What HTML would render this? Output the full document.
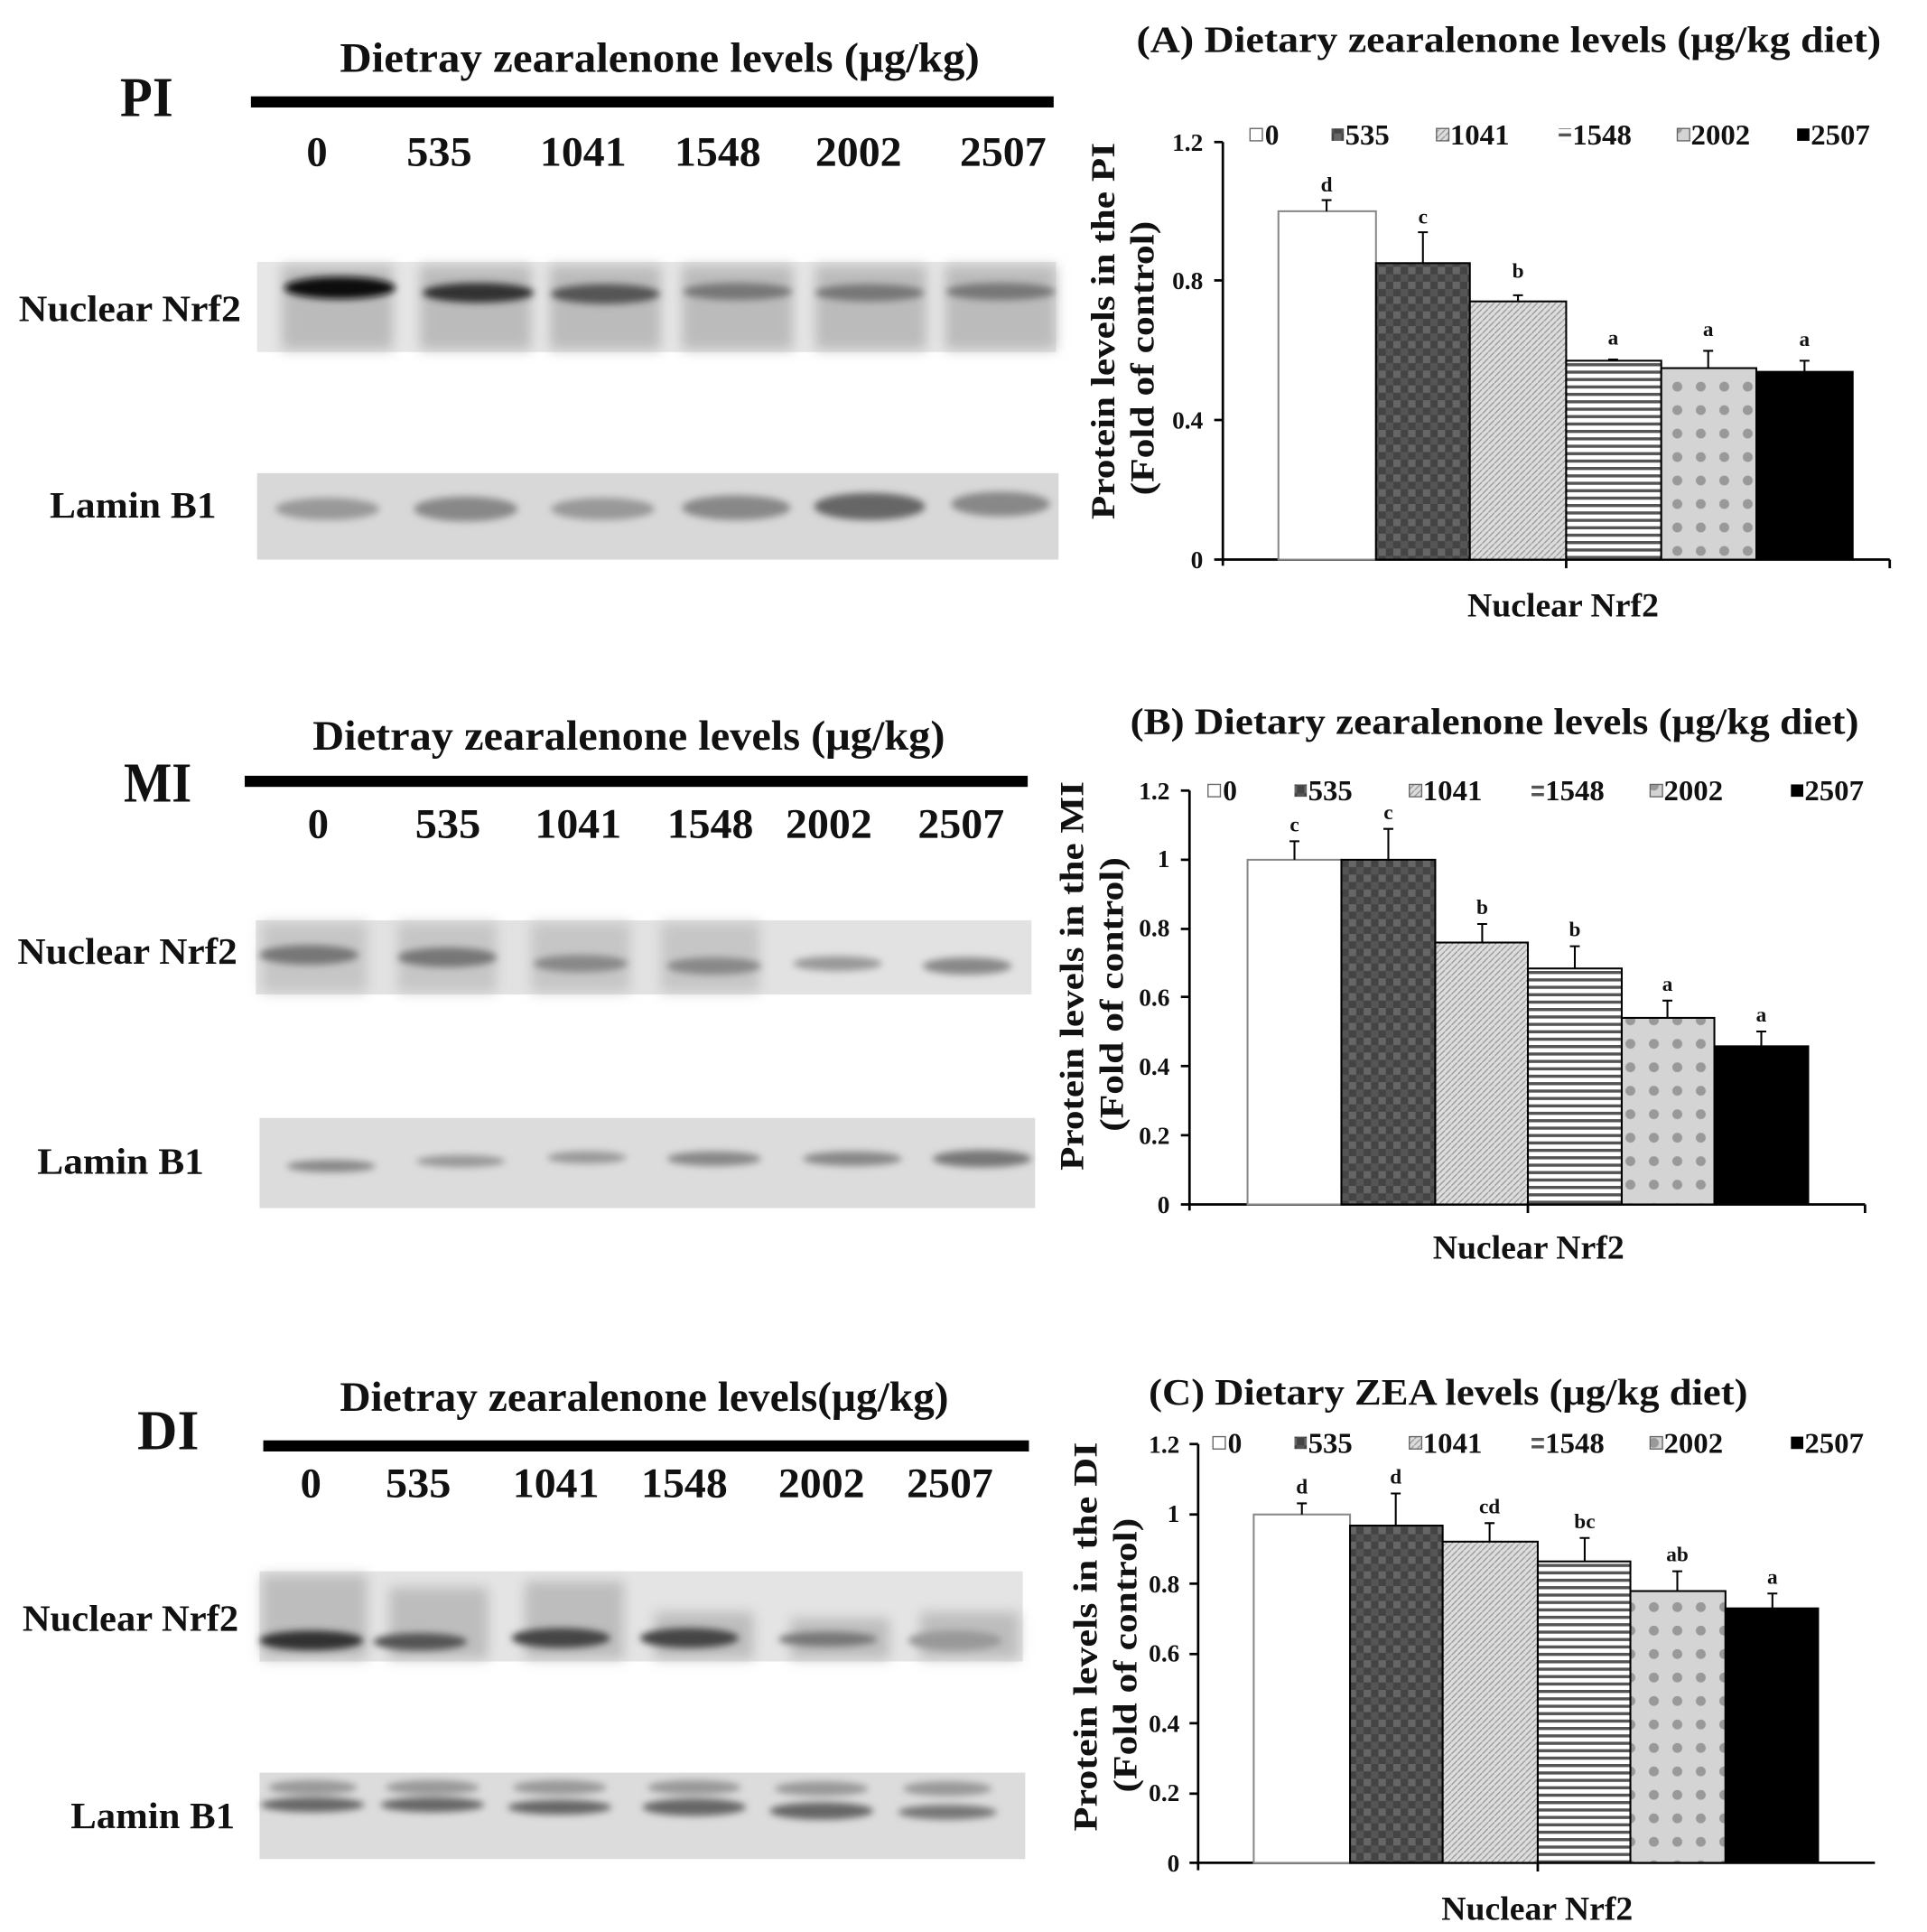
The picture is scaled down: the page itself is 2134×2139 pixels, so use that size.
<!DOCTYPE html>
<html><head><meta charset="utf-8"><style>
html,body{margin:0;padding:0;background:#fff}
svg{display:block}
text{font-family:"Liberation Serif",serif;font-weight:bold;fill:#111}
</style></head><body>
<svg width="2134" height="2139" viewBox="0 0 1560 1564" xmlns="http://www.w3.org/2000/svg">
<defs>
<filter id="bl" x="-20%" y="-50%" width="140%" height="200%"><feGaussianBlur stdDeviation="5"/></filter>
<filter id="bl2" x="-20%" y="-50%" width="140%" height="200%"><feGaussianBlur stdDeviation="3"/></filter>
<pattern id="p535" width="12" height="12" patternUnits="userSpaceOnUse"><rect width="12" height="12" fill="#444"/><rect width="6" height="6" fill="#666"/><rect x="6" y="6" width="6" height="6" fill="#555"/></pattern>
<pattern id="p1041" width="5" height="5" patternUnits="userSpaceOnUse"><rect width="5" height="5" fill="#ddd"/><path d="M0 5L5 0" stroke="#999" stroke-width="1"/></pattern>
<pattern id="p1548" width="6" height="6" patternUnits="userSpaceOnUse"><rect width="6" height="6" fill="#fff"/><rect y="0" width="6" height="2.5" fill="#555"/></pattern>
<pattern id="p2002" width="19" height="19" patternUnits="userSpaceOnUse"><rect width="19" height="19" fill="#d4d4d4"/><circle cx="9" cy="9" r="4" fill="#999"/></pattern>
</defs>

<!-- ========== PI blot ========== -->
<text x="97" y="94" font-size="46" textLength="43" lengthAdjust="spacingAndGlyphs">PI</text>
<text x="275" y="58" font-size="34" textLength="518" lengthAdjust="spacingAndGlyphs">Dietray zearalenone levels (μg/kg)</text>
<rect x="203" y="78" width="650" height="9" fill="#000"/>
<g font-size="34"><text x="248" y="134" textLength="17" lengthAdjust="spacingAndGlyphs">0</text><text x="329" y="134" textLength="53" lengthAdjust="spacingAndGlyphs">535</text><text x="437" y="134" textLength="70" lengthAdjust="spacingAndGlyphs">1041</text><text x="546" y="134" textLength="70" lengthAdjust="spacingAndGlyphs">1548</text><text x="660" y="134" textLength="70" lengthAdjust="spacingAndGlyphs">2002</text><text x="777" y="134" textLength="70" lengthAdjust="spacingAndGlyphs">2507</text></g>
<text x="15" y="260" font-size="30" textLength="180" lengthAdjust="spacingAndGlyphs">Nuclear Nrf2</text>
<text x="40" y="419" font-size="30" textLength="135" lengthAdjust="spacingAndGlyphs">Lamin B1</text>
<rect x="208" y="212" width="647" height="73" fill="#e6e6e6"/>
<g filter="url(#bl)" fill="#bbb"><rect x="228" y="215" width="90" height="68"/><rect x="340" y="215" width="90" height="68"/><rect x="445" y="215" width="90" height="68"/><rect x="552" y="215" width="90" height="68"/><rect x="660" y="215" width="90" height="68"/><rect x="765" y="215" width="90" height="68"/></g>
<g filter="url(#bl2)"><ellipse cx="275" cy="233" rx="45" ry="9" fill="#111"/><ellipse cx="387" cy="237" rx="45" ry="8" fill="#333"/><ellipse cx="490" cy="238" rx="44" ry="8" fill="#555"/><ellipse cx="597" cy="236" rx="44" ry="7" fill="#777"/><ellipse cx="704" cy="237" rx="44" ry="7" fill="#777"/><ellipse cx="810" cy="236" rx="44" ry="7" fill="#777"/></g>
<rect x="208" y="383" width="649" height="70" fill="#d8d8d8"/>
<g filter="url(#bl2)"><ellipse cx="265" cy="412" rx="42" ry="9" fill="#999"/><ellipse cx="377" cy="412" rx="42" ry="10" fill="#888"/><ellipse cx="488" cy="412" rx="42" ry="9" fill="#999"/><ellipse cx="596" cy="411" rx="44" ry="10" fill="#888"/><ellipse cx="704" cy="410" rx="45" ry="11" fill="#666"/><ellipse cx="810" cy="408" rx="40" ry="10" fill="#888"/></g>

<!-- ========== MI blot ========== -->
<text x="100" y="649" font-size="46" textLength="55" lengthAdjust="spacingAndGlyphs">MI</text>
<text x="253" y="607" font-size="34" textLength="512" lengthAdjust="spacingAndGlyphs">Dietray zearalenone levels (μg/kg)</text>
<rect x="198" y="628" width="634" height="9" fill="#000"/>
<g font-size="34"><text x="249" y="678" textLength="17" lengthAdjust="spacingAndGlyphs">0</text><text x="336" y="678" textLength="53" lengthAdjust="spacingAndGlyphs">535</text><text x="433" y="678" textLength="70" lengthAdjust="spacingAndGlyphs">1041</text><text x="540" y="678" textLength="70" lengthAdjust="spacingAndGlyphs">1548</text><text x="636" y="678" textLength="70" lengthAdjust="spacingAndGlyphs">2002</text><text x="743" y="678" textLength="70" lengthAdjust="spacingAndGlyphs">2507</text></g>
<text x="14" y="780" font-size="30" textLength="178" lengthAdjust="spacingAndGlyphs">Nuclear Nrf2</text>
<text x="30" y="950" font-size="30" textLength="135" lengthAdjust="spacingAndGlyphs">Lamin B1</text>
<rect x="207" y="745" width="628" height="60" fill="#e2e2e2"/>
<g filter="url(#bl)" fill="#c6c6c6"><rect x="212" y="747" width="85" height="56"/><rect x="322" y="747" width="80" height="56"/><rect x="430" y="747" width="80" height="56"/><rect x="535" y="747" width="80" height="56"/></g>
<g filter="url(#bl2)"><ellipse cx="250" cy="773" rx="40" ry="8" fill="#777"/><ellipse cx="362" cy="775" rx="40" ry="8" fill="#777"/><ellipse cx="470" cy="780" rx="38" ry="7" fill="#888"/><ellipse cx="578" cy="782" rx="38" ry="7" fill="#888"/><ellipse cx="678" cy="780" rx="36" ry="6" fill="#999"/><ellipse cx="783" cy="782" rx="36" ry="7" fill="#888"/></g>
<rect x="210" y="905" width="628" height="73" fill="#dcdcdc"/>
<g filter="url(#bl2)"><ellipse cx="268" cy="944" rx="36" ry="5" fill="#888"/><ellipse cx="373" cy="940" rx="36" ry="5" fill="#999"/><ellipse cx="475" cy="937" rx="32" ry="5" fill="#999"/><ellipse cx="578" cy="938" rx="38" ry="6" fill="#888"/><ellipse cx="690" cy="938" rx="40" ry="6" fill="#888"/><ellipse cx="795" cy="938" rx="40" ry="7" fill="#777"/></g>

<!-- ========== DI blot ========== -->
<text x="111" y="1173" font-size="46" textLength="50" lengthAdjust="spacingAndGlyphs">DI</text>
<text x="275" y="1142" font-size="34" textLength="493" lengthAdjust="spacingAndGlyphs">Dietray zearalenone levels(μg/kg)</text>
<rect x="213" y="1166" width="620" height="9" fill="#000"/>
<g font-size="34"><text x="243" y="1212" textLength="17" lengthAdjust="spacingAndGlyphs">0</text><text x="312" y="1212" textLength="53" lengthAdjust="spacingAndGlyphs">535</text><text x="415" y="1212" textLength="70" lengthAdjust="spacingAndGlyphs">1041</text><text x="519" y="1212" textLength="70" lengthAdjust="spacingAndGlyphs">1548</text><text x="630" y="1212" textLength="70" lengthAdjust="spacingAndGlyphs">2002</text><text x="734" y="1212" textLength="70" lengthAdjust="spacingAndGlyphs">2507</text></g>
<text x="18" y="1320" font-size="30" textLength="175" lengthAdjust="spacingAndGlyphs">Nuclear Nrf2</text>
<text x="57" y="1480" font-size="30" textLength="133" lengthAdjust="spacingAndGlyphs">Lamin B1</text>
<rect x="210" y="1272" width="618" height="73" fill="#e4e4e4"/>
<g filter="url(#bl)" fill="#bdbdbd"><rect x="212" y="1275" width="85" height="68"/><rect x="315" y="1285" width="80" height="58"/><rect x="425" y="1280" width="80" height="63"/><rect x="530" y="1305" width="80" height="38"/><rect x="640" y="1310" width="80" height="33"/><rect x="745" y="1305" width="80" height="38"/></g>
<g filter="url(#bl2)"><ellipse cx="252" cy="1328" rx="42" ry="8" fill="#333"/><ellipse cx="340" cy="1329" rx="38" ry="7" fill="#555"/><ellipse cx="454" cy="1326" rx="40" ry="8" fill="#444"/><ellipse cx="558" cy="1326" rx="40" ry="8" fill="#444"/><ellipse cx="670" cy="1327" rx="40" ry="6" fill="#777"/><ellipse cx="773" cy="1328" rx="38" ry="8" fill="#999"/></g>
<rect x="210" y="1435" width="620" height="70" fill="#dcdcdc"/>
<g filter="url(#bl2)"><ellipse cx="253" cy="1447" rx="36" ry="6" fill="#999"/><ellipse cx="350" cy="1447" rx="38" ry="6" fill="#999"/><ellipse cx="453" cy="1447" rx="38" ry="6" fill="#999"/><ellipse cx="562" cy="1447" rx="38" ry="6" fill="#999"/><ellipse cx="665" cy="1448" rx="38" ry="6" fill="#999"/><ellipse cx="767" cy="1448" rx="36" ry="6" fill="#999"/>
<ellipse cx="253" cy="1461" rx="42" ry="6" fill="#666"/><ellipse cx="350" cy="1461" rx="42" ry="6" fill="#666"/><ellipse cx="453" cy="1463" rx="42" ry="6" fill="#666"/><ellipse cx="562" cy="1463" rx="42" ry="7" fill="#666"/><ellipse cx="665" cy="1466" rx="42" ry="7" fill="#666"/><ellipse cx="767" cy="1467" rx="40" ry="6" fill="#777"/></g>

<!-- ========== Chart A ========== -->
<text x="920" y="42" font-size="30" textLength="603" lengthAdjust="spacingAndGlyphs">(A)  Dietary  zearalenone levels (μg/kg diet)</text>
<g font-size="20" text-anchor="end"><text x="974" y="122">1.2</text><text x="974" y="234">0.8</text><text x="974" y="347">0.4</text><text x="974" y="460">0</text></g>
<g stroke="#000" stroke-width="2"><line x1="990" y1="115" x2="990" y2="458"/><line x1="983" y1="115" x2="990" y2="115"/><line x1="983" y1="227" x2="990" y2="227"/><line x1="983" y1="340" x2="990" y2="340"/><line x1="983" y1="453" x2="1530" y2="453"/><line x1="1268" y1="453" x2="1268" y2="460"/><line x1="1530" y1="453" x2="1530" y2="460"/></g>
<g stroke="#000" stroke-width="1.5">
<rect x="1035" y="171" width="79" height="282" fill="#fff" stroke="#888"/>
<rect x="1114" y="213" width="76" height="240" fill="url(#p535)"/>
<rect x="1190" y="244" width="78" height="209" fill="url(#p1041)"/>
<rect x="1268" y="292" width="77" height="161" fill="url(#p1548)"/>
<rect x="1345" y="298" width="77" height="155" fill="url(#p2002)"/>
<rect x="1422" y="301" width="78" height="152" fill="#000"/>
<path d="M1074 171V162M1070 162h8M1152 213V188M1148 188h8M1229 244V239M1225 239h8M1306 292V291M1302 291h8M1383 298V284M1379 284h8M1461 301V292M1457 292h8" fill="none"/>
</g>
<g font-size="17" text-anchor="middle"><text x="1074" y="155">d</text><text x="1152" y="181">c</text><text x="1229" y="225">b</text><text x="1306" y="279">a</text><text x="1383" y="272">a</text><text x="1461" y="280">a</text></g>
<g font-size="23"><rect x="1012" y="104" width="10" height="10" fill="#fff" stroke="#666"/><text x="1024" y="117">0</text>
<rect x="1078" y="104" width="10" height="10" fill="url(#p535)"/><text x="1089" y="117" textLength="36" lengthAdjust="spacingAndGlyphs">535</text>
<rect x="1163" y="104" width="10" height="10" fill="url(#p1041)" stroke="#666"/><text x="1174" y="117" textLength="48" lengthAdjust="spacingAndGlyphs">1041</text>
<rect x="1262" y="104" width="10" height="10" fill="url(#p1548)"/><text x="1273" y="117" textLength="48" lengthAdjust="spacingAndGlyphs">1548</text>
<rect x="1358" y="104" width="10" height="10" fill="url(#p2002)" stroke="#666"/><text x="1369" y="117" textLength="48" lengthAdjust="spacingAndGlyphs">2002</text>
<rect x="1455" y="104" width="10" height="10" fill="#000"/><text x="1466" y="117" textLength="48" lengthAdjust="spacingAndGlyphs">2507</text></g>
<text x="1188" y="499" font-size="27" textLength="155" lengthAdjust="spacingAndGlyphs">Nuclear Nrf2</text>
<text transform="translate(902,268) rotate(-90)" font-size="27" text-anchor="middle" textLength="305" lengthAdjust="spacingAndGlyphs">Protein levels in the PI</text>
<text transform="translate(934,290) rotate(-90)" font-size="27" text-anchor="middle" textLength="222" lengthAdjust="spacingAndGlyphs">(Fold of control)</text>

<!-- ========== Chart B ========== -->
<text x="915" y="594" font-size="30" textLength="590" lengthAdjust="spacingAndGlyphs">(B)  Dietary  zearalenone levels (μg/kg diet)</text>
<g font-size="20" text-anchor="end"><text x="947" y="647">1.2</text><text x="947" y="702">1</text><text x="947" y="758">0.8</text><text x="947" y="814">0.6</text><text x="947" y="870">0.4</text><text x="947" y="926">0.2</text><text x="947" y="982">0</text></g>
<g stroke="#000" stroke-width="2"><line x1="963" y1="640" x2="963" y2="980"/><line x1="956" y1="640" x2="963" y2="640"/><line x1="956" y1="696" x2="963" y2="696"/><line x1="956" y1="752" x2="963" y2="752"/><line x1="956" y1="807" x2="963" y2="807"/><line x1="956" y1="863" x2="963" y2="863"/><line x1="956" y1="919" x2="963" y2="919"/><line x1="956" y1="975" x2="1510" y2="975"/><line x1="1237" y1="975" x2="1237" y2="982"/><line x1="1510" y1="975" x2="1510" y2="982"/></g>
<g stroke="#000" stroke-width="1.5">
<rect x="1010" y="696" width="76" height="279" fill="#fff" stroke="#888"/>
<rect x="1086" y="696" width="76" height="279" fill="url(#p535)"/>
<rect x="1162" y="763" width="75" height="212" fill="url(#p1041)"/>
<rect x="1237" y="784" width="76" height="191" fill="url(#p1548)"/>
<rect x="1313" y="824" width="75" height="151" fill="url(#p2002)"/>
<rect x="1388" y="847" width="76" height="128" fill="#000"/>
<path d="M1048 696V681M1044 681h8M1124 696V671M1120 671h8M1200 763V748M1196 748h8M1275 784V766M1271 766h8M1350 824V810M1346 810h8M1426 847V835M1422 835h8" fill="none"/>
</g>
<g font-size="17" text-anchor="middle"><text x="1048" y="673">c</text><text x="1124" y="663">c</text><text x="1200" y="740">b</text><text x="1275" y="758">b</text><text x="1350" y="802">a</text><text x="1426" y="827">a</text></g>
<g font-size="23"><rect x="978" y="635" width="10" height="10" fill="#fff" stroke="#666"/><text x="990" y="648">0</text>
<rect x="1048" y="635" width="10" height="10" fill="url(#p535)"/><text x="1059" y="648" textLength="36" lengthAdjust="spacingAndGlyphs">535</text>
<rect x="1141" y="635" width="10" height="10" fill="url(#p1041)" stroke="#666"/><text x="1152" y="648" textLength="48" lengthAdjust="spacingAndGlyphs">1041</text>
<rect x="1240" y="635" width="10" height="10" fill="url(#p1548)"/><text x="1251" y="648" textLength="48" lengthAdjust="spacingAndGlyphs">1548</text>
<rect x="1336" y="635" width="10" height="10" fill="url(#p2002)" stroke="#666"/><text x="1347" y="648" textLength="48" lengthAdjust="spacingAndGlyphs">2002</text>
<rect x="1450" y="635" width="10" height="10" fill="#000"/><text x="1461" y="648" textLength="48" lengthAdjust="spacingAndGlyphs">2507</text></g>
<text x="1160" y="1019" font-size="27" textLength="155" lengthAdjust="spacingAndGlyphs">Nuclear Nrf2</text>
<text transform="translate(877,790) rotate(-90)" font-size="27" text-anchor="middle" textLength="315" lengthAdjust="spacingAndGlyphs">Protein levels in the MI</text>
<text transform="translate(909,805) rotate(-90)" font-size="27" text-anchor="middle" textLength="222" lengthAdjust="spacingAndGlyphs">(Fold of control)</text>

<!-- ========== Chart C ========== -->
<text x="930" y="1137" font-size="30" textLength="485" lengthAdjust="spacingAndGlyphs">(C)  Dietary  ZEA levels (μg/kg diet)</text>
<g font-size="20" text-anchor="end"><text x="955" y="1176">1.2</text><text x="955" y="1232">1</text><text x="955" y="1289">0.8</text><text x="955" y="1345">0.6</text><text x="955" y="1402">0.4</text><text x="955" y="1458">0.2</text><text x="955" y="1515">0</text></g>
<g stroke="#000" stroke-width="2"><line x1="970" y1="1169" x2="970" y2="1514"/><line x1="963" y1="1169" x2="970" y2="1169"/><line x1="963" y1="1226" x2="970" y2="1226"/><line x1="963" y1="1282" x2="970" y2="1282"/><line x1="963" y1="1339" x2="970" y2="1339"/><line x1="963" y1="1395" x2="970" y2="1395"/><line x1="963" y1="1452" x2="970" y2="1452"/><line x1="963" y1="1508" x2="1518" y2="1508"/><line x1="1245" y1="1508" x2="1245" y2="1515"/></g>
<g stroke="#000" stroke-width="1.5">
<rect x="1015" y="1226" width="78" height="282" fill="#fff" stroke="#888"/>
<rect x="1093" y="1235" width="75" height="273" fill="url(#p535)"/>
<rect x="1168" y="1248" width="77" height="260" fill="url(#p1041)"/>
<rect x="1245" y="1264" width="75" height="244" fill="url(#p1548)"/>
<rect x="1320" y="1288" width="77" height="220" fill="url(#p2002)"/>
<rect x="1397" y="1302" width="75" height="206" fill="#000"/>
<path d="M1054 1226V1217M1050 1217h8M1130 1235V1209M1126 1209h8M1206 1248V1233M1202 1233h8M1283 1264V1245M1279 1245h8M1358 1288V1272M1354 1272h8M1435 1302V1290M1431 1290h8" fill="none"/>
</g>
<g font-size="17" text-anchor="middle"><text x="1054" y="1209">d</text><text x="1130" y="1201">d</text><text x="1206" y="1225">cd</text><text x="1283" y="1237">bc</text><text x="1358" y="1264">ab</text><text x="1435" y="1282">a</text></g>
<g font-size="23"><rect x="982" y="1163" width="10" height="10" fill="#fff" stroke="#666"/><text x="994" y="1176">0</text>
<rect x="1048" y="1163" width="10" height="10" fill="url(#p535)"/><text x="1059" y="1176" textLength="36" lengthAdjust="spacingAndGlyphs">535</text>
<rect x="1141" y="1163" width="10" height="10" fill="url(#p1041)" stroke="#666"/><text x="1152" y="1176" textLength="48" lengthAdjust="spacingAndGlyphs">1041</text>
<rect x="1240" y="1163" width="10" height="10" fill="url(#p1548)"/><text x="1251" y="1176" textLength="48" lengthAdjust="spacingAndGlyphs">1548</text>
<rect x="1336" y="1163" width="10" height="10" fill="url(#p2002)" stroke="#666"/><text x="1347" y="1176" textLength="48" lengthAdjust="spacingAndGlyphs">2002</text>
<rect x="1450" y="1163" width="10" height="10" fill="#000"/><text x="1461" y="1176" textLength="48" lengthAdjust="spacingAndGlyphs">2507</text></g>
<text x="1167" y="1554" font-size="27" textLength="155" lengthAdjust="spacingAndGlyphs">Nuclear Nrf2</text>
<text transform="translate(888,1325) rotate(-90)" font-size="27" text-anchor="middle" textLength="315" lengthAdjust="spacingAndGlyphs">Protein levels in the DI</text>
<text transform="translate(920,1340) rotate(-90)" font-size="27" text-anchor="middle" textLength="222" lengthAdjust="spacingAndGlyphs">(Fold of control)</text>
</svg>
</body></html>
